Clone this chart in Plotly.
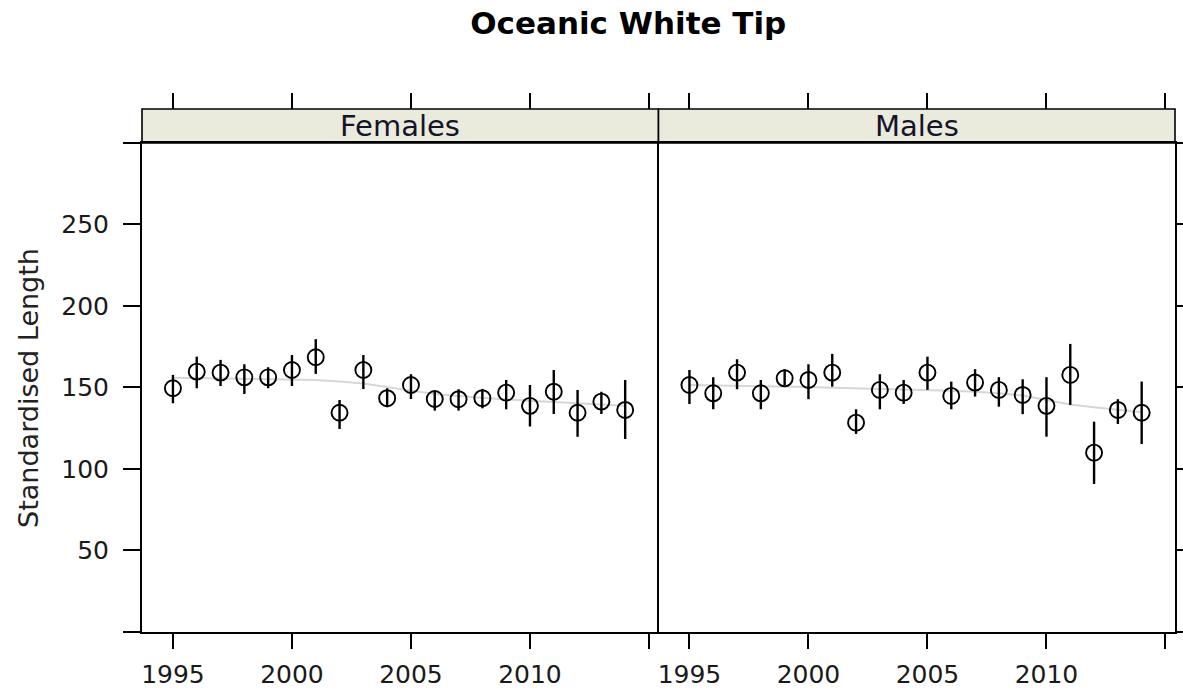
import plotly.graph_objects as go

years = list(range(1995, 2015))

# Females: mean, lower and upper of the interval, smoothed trend
fem_mean = [149.5, 159.7, 159.1, 156.2, 156.2, 160.7, 168.5, 134.5, 160.7, 143.4,
            151.5, 142.9, 142.8, 143.4, 146.8, 138.7, 147.4, 134.5, 141.3, 136.2]
fem_low = [140.3, 149.5, 150.9, 146.0, 149.5, 150.9, 158.3, 124.5, 149.0, 137.9,
           142.9, 135.8, 135.8, 137.2, 136.6, 126.0, 133.7, 119.8, 133.7, 118.4]
fem_high = [157.7, 168.9, 166.9, 164.2, 162.4, 169.9, 179.6, 142.3, 169.9, 149.5,
            158.1, 147.9, 148.9, 149.1, 154.6, 151.5, 160.7, 148.5, 147.4, 154.6]
fem_smooth = [156.0, 155.8, 155.6, 155.4, 155.2, 155.0, 154.6, 153.6, 152.4, 150.2,
              148.0, 146.0, 144.8, 143.6, 142.6, 141.8, 141.0, 140.3, 139.5, 138.7]

# Males
male_mean = [151.5, 146.4, 159.1, 146.4, 155.6, 154.6, 159.1, 128.4, 148.5, 146.8,
             159.1, 144.8, 153.0, 148.5, 145.4, 138.7, 157.7, 110.0, 136.2, 134.5]
male_low = [139.9, 136.6, 148.9, 136.6, 151.5, 142.8, 150.5, 121.5, 136.6, 139.9,
            148.5, 136.6, 144.4, 138.2, 133.6, 119.8, 139.3, 90.8, 127.6, 115.3]
male_high = [160.7, 156.3, 167.3, 154.6, 161.2, 164.2, 170.6, 136.6, 158.1, 154.6,
             168.9, 153.6, 161.2, 156.3, 155.0, 156.3, 176.7, 129.0, 142.8, 153.6]
male_smooth = [151.5, 151.3, 151.1, 150.9, 150.6, 150.2, 149.8, 149.5, 149.3, 149.0,
               148.5, 148.0, 147.4, 146.5, 145.0, 142.3, 139.6, 137.9, 136.2, 134.8]

panels = ["Females", "Males"]
x_ticks = [1995, 2000, 2005, 2010, 2015]
x_labels = ["1995", "2000", "2005", "2010", ""]
y_ticks = [0, 50, 100, 150, 200, 250, 300]
y_labels = ["", "50", "100", "150", "200", "250", ""]

# the page gets photographed slightly shrunk, so lay out at a small scale-up
S = 1199 / 1183
W, H = round(1183 * S), round(692 * S)
L, R, T, B = 140 * S, 12 * S, 108 * S, 59 * S
plot_h = H - T - B
y_dom_top = (H - B - 142 * S) / plot_h   # strip sits between this and the paper top

font = "DejaVu Sans, Verdana, sans-serif"
xr = [1993.7, 2015.4]

fig = go.Figure()

series = [(fem_mean, fem_low, fem_high, fem_smooth), (male_mean, male_low, male_high, male_smooth)]
for i, (m, lo, hi, sm) in enumerate(series):
    xa = "x" if i == 0 else "x2"
    ya = "y" if i == 0 else "y2"
    fig.add_trace(go.Scatter(x=years, y=sm, mode="lines", xaxis=xa, yaxis=ya,
                             line=dict(color="#D6D6D6", width=2), showlegend=False, hoverinfo="skip"))
    fig.add_trace(go.Scatter(
        x=years, y=m, mode="markers", xaxis=xa, yaxis=ya, showlegend=False,
        marker=dict(symbol="circle-open", size=16, color="black", line=dict(width=1.9, color="black")),
        error_y=dict(type="data", symmetric=False,
                     array=[h - v for h, v in zip(hi, m)],
                     arrayminus=[v - l for v, l in zip(m, lo)],
                     width=0, thickness=2.4, color="black"),
    ))
    # hidden trace so the top tick axes get drawn
    fig.add_trace(go.Scatter(x=years, y=m, mode="none", xaxis="x3" if i == 0 else "x4",
                             yaxis=ya, showlegend=False, hoverinfo="skip"))

axis_common = dict(showgrid=False, zeroline=False, showline=True, linecolor="black", linewidth=1.6,
                   ticks="outside", tickcolor="black", tickwidth=1.6,
                   tickfont=dict(family=font, size=25, color="#1a1a1a"))

xcommon = dict(axis_common, range=xr, tickvals=x_ticks, ticktext=x_labels, ticklen=15 * S,
               mirror=True, ticklabelstandoff=4)
topcommon = dict(showgrid=False, zeroline=False, showline=False, range=xr, tickvals=x_ticks,
                 ticks="outside", ticklen=16 * S, tickcolor="black", tickwidth=1.6,
                 showticklabels=False, side="top", anchor="free", position=1)

fig.update_layout(
    width=W, height=H,
    margin=dict(l=L, r=R, t=T, b=B),
    paper_bgcolor="white", plot_bgcolor="white",
    title=dict(text="<b>Oceanic White Tip</b>", x=0.524, xanchor="center",
               y=1 - 23 / 692, yref="container", yanchor="middle",
               font=dict(family=font, size=31, color="black")),
    xaxis=dict(xcommon, domain=[0, 0.5], anchor="y"),
    xaxis2=dict(xcommon, domain=[0.5, 1], anchor="y2"),
    xaxis3=dict(topcommon, domain=[0, 0.5], overlaying="x"),
    xaxis4=dict(topcommon, domain=[0.5, 1], overlaying="x2"),
    yaxis=dict(axis_common, domain=[0, y_dom_top], range=[0, 300], tickvals=y_ticks,
               ticktext=y_labels, ticklen=17 * S, mirror=False, anchor="x", ticklabelstandoff=9),
    yaxis2=dict(axis_common, domain=[0, y_dom_top], range=[0, 300], tickvals=y_ticks,
                ticklen=12 * S, mirror=True, anchor="x2", side="right", showticklabels=False),
)

# strips
for i, name in enumerate(panels):
    x0, x1 = i * 0.5, (i + 1) * 0.5
    fig.add_shape(type="rect", xref="paper", yref="paper", x0=x0, x1=x1, y0=y_dom_top, y1=1,
                  fillcolor="#EBEBDD", line=dict(color="black", width=1.6), layer="below")
    fig.add_annotation(text=name, xref="paper", yref="paper", x=(x0 + x1) / 2,
                       y=(y_dom_top + 1) / 2, showarrow=False, xanchor="center", yanchor="middle",
                       font=dict(family=font, size=29, color="#141428"))

fig.add_annotation(text="Standardised Length", xref="paper", yref="paper",
                   x=(26 * S - L) / (W - L - R), y=(H - B - 388 * S) / plot_h, textangle=-90,
                   showarrow=False, xanchor="center", yanchor="middle",
                   font=dict(family=font, size=27, color="#222222"))

page_fix = ("document.body.style.margin='0';"
            "document.body.style.overflow='hidden';"
            "document.documentElement.style.overflow='hidden';")
fig.write_html("out.html", config={"displayModeBar": False}, post_script=page_fix)
